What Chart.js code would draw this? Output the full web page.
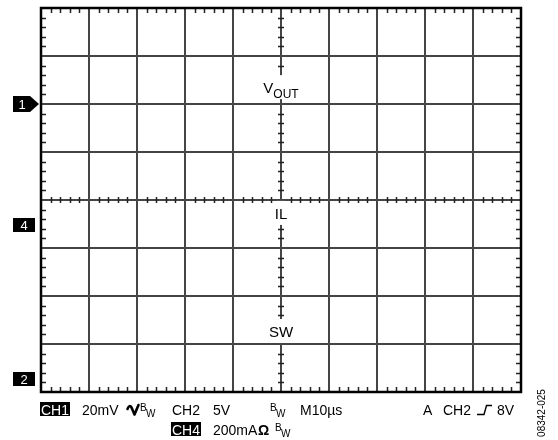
<!DOCTYPE html>
<html>
<head>
<meta charset="utf-8">
<script src="https://cdn.jsdelivr.net/npm/chart.js@4/dist/chart.umd.min.js"></script>
<style>
  html, body { margin: 0; padding: 0; background: #fff; overflow: hidden; }
  canvas { display: block; }
</style>
</head>
<body>
<canvas id="scope" width="558" height="440"></canvas>
<script>
// Screen graticule: 10 time divisions by 8 amplitude divisions
const timeDivisions = [0, 10];
const ampDivisions = [-4, 4];
const minorPerDivision = 5;

// Channel ground markers on the left edge (position in divisions)
const channelNames = ['1', '4', '2'];
const channelLevels = [2.0, -0.52, -3.72];
const channelArrow = [true, false, false];

// Trace captions written on the vertical centre line
const traceNames = ['V', 'IL', 'SW'];
const traceSubscripts = ['OUT', '', ''];
const traceLevels = [2.33, -0.29, -2.75];

// Settings readout under the screen
const readoutLine1 = ['CH1', '20mV', 'CH2', '5V', 'M10\u00B5s', 'A', 'CH2', '8V'];
const readoutLine2 = ['CH4', '200mA', '\u03A9'];
const bwMark = ['B', 'W'];
const figureCode = '08342-025';

const FONT = '"Liberation Sans", Arial, Helvetica, sans-serif';

const scopePlugin = {
  id: 'scopeScreen',
  afterDraw(chart) {
    const ctx = chart.ctx;
    const xs = chart.scales.x, ys = chart.scales.y;
    const L = xs.getPixelForValue(timeDivisions[0]);
    const R = xs.getPixelForValue(timeDivisions[1]);
    const T = ys.getPixelForValue(ampDivisions[1]);
    const B = ys.getPixelForValue(ampDivisions[0]);
    const cx = xs.getPixelForValue((timeDivisions[0] + timeDivisions[1]) / 2);
    const cy = ys.getPixelForValue((ampDivisions[0] + ampDivisions[1]) / 2);
    const divW = (R - L) / (timeDivisions[1] - timeDivisions[0]);
    const divH = (B - T) / (ampDivisions[1] - ampDivisions[0]);

    ctx.save();

    // caption boxes along the centre line (blank out the line behind them)
    const captionBoxes = [];
    traceNames.forEach((name, i) => {
      const y = ys.getPixelForValue(traceLevels[i]);
      const box = { top: y - 13, bottom: y + 11 };
      captionBoxes.push(box);
      ctx.fillStyle = '#fff';
      ctx.fillRect(cx - 4, box.top, 8, box.bottom - box.top);
    });
    const inCaption = (y) => captionBoxes.some(b => y > b.top - 1 && y < b.bottom + 1);

    // minor ticks
    ctx.strokeStyle = '#222';
    ctx.lineWidth = 1.5;
    ctx.beginPath();
    const nx = (timeDivisions[1] - timeDivisions[0]) * minorPerDivision;
    for (let k = 1; k < nx; k++) {
      if (k % minorPerDivision === 0) continue;
      const x = Math.round(L + k * divW / minorPerDivision) + 0.5;
      ctx.moveTo(x, T); ctx.lineTo(x, T + 5);
      ctx.moveTo(x, B); ctx.lineTo(x, B - 5);
      ctx.moveTo(x, cy - 3); ctx.lineTo(x, cy + 3);
    }
    const ny = (ampDivisions[1] - ampDivisions[0]) * minorPerDivision;
    for (let k = 1; k < ny; k++) {
      if (k % minorPerDivision === 0) continue;
      const y = Math.round(T + k * divH / minorPerDivision) + 0.5;
      ctx.moveTo(L, y); ctx.lineTo(L + 5, y);
      ctx.moveTo(R, y); ctx.lineTo(R - 5, y);
      if (!inCaption(y)) { ctx.moveTo(cx - 3, y); ctx.lineTo(cx + 3, y); }
    }
    ctx.stroke();

    // screen frame
    ctx.strokeStyle = '#000';
    ctx.lineWidth = 2.5;
    ctx.strokeRect(L, T, R - L, B - T);

    // trace captions
    ctx.fillStyle = '#000';
    ctx.textBaseline = 'alphabetic';
    traceNames.forEach((name, i) => {
      const y = ys.getPixelForValue(traceLevels[i]) + 5;
      ctx.font = '15px ' + FONT;
      const w1 = ctx.measureText(name).width;
      ctx.font = '12px ' + FONT;
      const w2 = traceSubscripts[i] ? ctx.measureText(traceSubscripts[i]).width : 0;
      const x0 = cx - (w1 + w2) / 2;
      ctx.font = '15px ' + FONT;
      ctx.textAlign = 'left';
      ctx.fillText(name, x0, y);
      if (traceSubscripts[i]) {
        ctx.font = '12px ' + FONT;
        ctx.fillText(traceSubscripts[i], x0 + w1, y + 5);
      }
    });

    // channel markers
    channelNames.forEach((name, i) => {
      const y = Math.round(ys.getPixelForValue(channelLevels[i]));
      ctx.fillStyle = '#000';
      ctx.beginPath();
      if (channelArrow[i]) {
        ctx.moveTo(13, y - 8); ctx.lineTo(30, y - 8); ctx.lineTo(L - 2, y);
        ctx.lineTo(30, y + 8); ctx.lineTo(13, y + 8);
      } else {
        ctx.rect(13, y - 7, 22, 14);
      }
      ctx.closePath();
      ctx.fill();
      ctx.fillStyle = '#fff';
      ctx.font = '13px ' + FONT;
      ctx.textAlign = 'center';
      ctx.textBaseline = 'middle';
      ctx.fillText(name, channelArrow[i] ? 22 : 24, y + 1);
    });

    // readout
    const base1 = 415, base2 = 435;
    ctx.textBaseline = 'alphabetic';
    ctx.textAlign = 'left';
    const inverse = (txt, x, base) => {
      ctx.font = '14px ' + FONT;
      const w = ctx.measureText(txt).width;
      ctx.fillStyle = '#000';
      ctx.fillRect(x - 1, base - 13, w + 2, 14);
      ctx.fillStyle = '#fff';
      ctx.fillText(txt, x, base);
      ctx.fillStyle = '#000';
    };
    const plain = (txt, x, base, size, bold) => {
      ctx.font = (bold ? 'bold ' : '') + (size || 14) + 'px ' + FONT;
      ctx.fillStyle = '#000';
      ctx.fillText(txt, x, base);
    };
    const bw = (x, base) => {
      plain(bwMark[0], x, base - 4, 10);
      plain(bwMark[1], x + 6, base + 2, 10);
    };

    inverse(readoutLine1[0], 41, base1);
    plain(readoutLine1[1], 82, base1);
    // AC coupling glyph
    ctx.strokeStyle = '#000';
    ctx.lineWidth = 2.6;
    ctx.lineJoin = 'round';
    ctx.lineCap = 'round';
    ctx.beginPath();
    ctx.moveTo(127.5, 409);
    ctx.quadraticCurveTo(129.5, 404, 131.5, 407.5);
    ctx.lineTo(134.5, 414.5);
    ctx.lineTo(138.5, 405);
    ctx.stroke();
    bw(140, base1);
    plain(readoutLine1[2], 172, base1);
    plain(readoutLine1[3], 213, base1);
    bw(270, base1);
    plain(readoutLine1[4], 300, base1);
    plain(readoutLine1[5], 423, base1);
    plain(readoutLine1[6], 443, base1);
    // rising-edge trigger glyph
    ctx.lineWidth = 1.4;
    ctx.lineCap = 'butt';
    ctx.lineJoin = 'miter';
    ctx.beginPath();
    ctx.moveTo(477, 414.5);
    ctx.lineTo(484, 414.5);
    ctx.lineTo(486.5, 405.5);
    ctx.lineTo(492, 405.5);
    ctx.stroke();
    plain(readoutLine1[7], 497, base1);

    inverse(readoutLine2[0], 172, base2);
    plain(readoutLine2[1], 213, base2);
    plain(readoutLine2[2], 258, base2, 14, true);
    bw(275, base2);

    // figure code, rotated along the right margin
    ctx.save();
    ctx.translate(545, 413);
    ctx.rotate(-Math.PI / 2);
    ctx.font = '10px ' + FONT;
    ctx.textAlign = 'center';
    ctx.textBaseline = 'alphabetic';
    ctx.fillStyle = '#000';
    ctx.fillText(figureCode, 0, 0);
    ctx.restore();

    ctx.restore();
  }
};

const zeroFit = (scale) => { if (scale.isHorizontal()) scale.height = 0; else scale.width = 0; };

new Chart(document.getElementById('scope'), {
  type: 'scatter',
  data: {
    datasets: channelNames.map(n => ({ label: 'CH' + n, data: [], showLine: true, pointRadius: 0 }))
  },
  options: {
    responsive: false,
    animation: false,
    events: [],
    layout: { padding: { left: 41, top: 8, right: 37, bottom: 48 } },
    plugins: { legend: { display: false }, tooltip: { enabled: false } },
    scales: {
      x: {
        type: 'linear', min: timeDivisions[0], max: timeDivisions[1],
        ticks: { display: false, stepSize: 1 },
        grid: { color: '#454545', lineWidth: 2, drawTicks: false },
        border: { display: false },
        afterFit: zeroFit
      },
      y: {
        type: 'linear', min: ampDivisions[0], max: ampDivisions[1],
        ticks: { display: false, stepSize: 1 },
        grid: { color: '#454545', lineWidth: 2, drawTicks: false },
        border: { display: false },
        afterFit: zeroFit
      }
    }
  },
  plugins: [scopePlugin]
});
</script>
</body>
</html>
